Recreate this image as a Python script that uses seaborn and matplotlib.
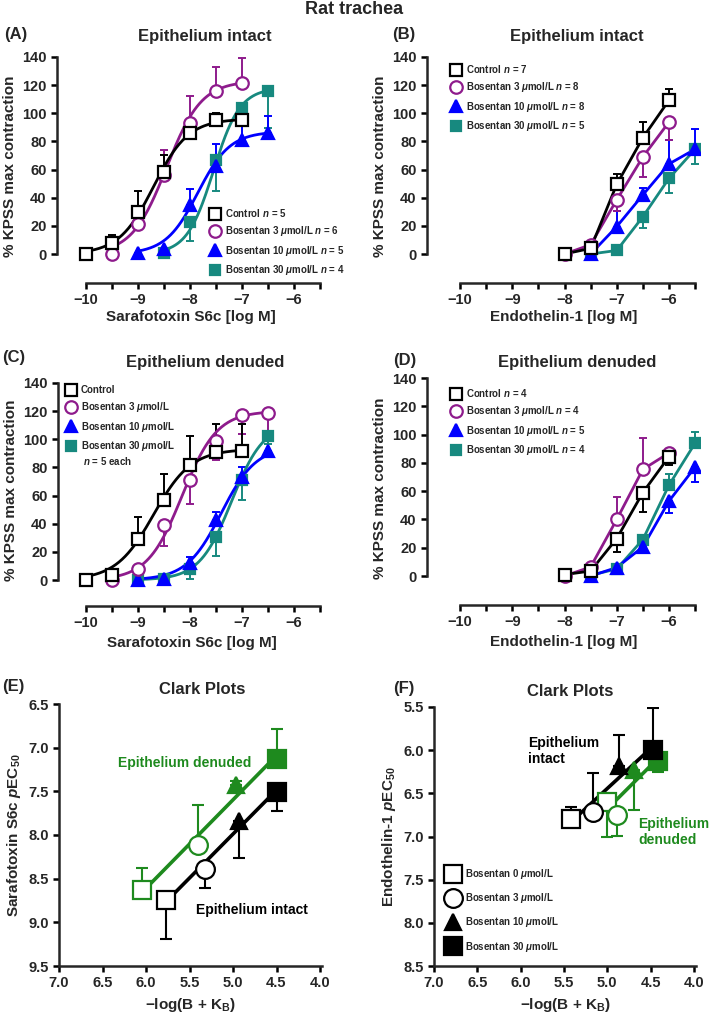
import numpy as np
import matplotlib
matplotlib.use("Agg")
import matplotlib.pyplot as plt
from matplotlib.lines import Line2D
from matplotlib.ticker import FormatStrFormatter
import seaborn as sns

sns.set_style("ticks")
plt.rcParams['font.family'] = ['Liberation Sans', 'DejaVu Sans']
plt.rcParams['font.weight'] = 'bold'
plt.rcParams['axes.labelweight'] = 'bold'
plt.rcParams['mathtext.fontset'] = 'custom'
plt.rcParams['mathtext.rm'] = 'Liberation Sans:bold'
plt.rcParams['mathtext.it'] = 'Liberation Sans:italic:bold'
plt.rcParams['mathtext.bf'] = 'Liberation Sans:bold'

# ---- (A) sarafotoxin S6c, epithelium intact ----
a_ctrl_x = [-10, -9.5, -9, -8.5, -8, -7.5, -7]
a_ctrl_y = [0, 7.5, 30, 58.5, 86, 95, 95]
a_ctrl_e = [0, 6, 15, 12, 5, 5.5, 5.5]
a_b3_x = [-9.5, -9, -8.5, -8, -7.5, -7]
a_b3_y = [0, 21, 56, 93, 116, 121.5]
a_b3_e = [0, 0, 18, 19, 17, 18]
a_b10_x = [-9, -8.5, -8, -7.5, -7, -6.5]
a_b10_y = [0.5, 3.5, 35, 62.5, 81, 86]
a_b10_e = [0, 0, 11, 15.5, 14, 12]
a_b30_x = [-8.5, -8, -7.5, -7, -6.5]
a_b30_y = [1, 23, 67, 103.5, 115.5]
a_b30_e = [0, 14, 22.5, 6, 26]
# fitted curves: top, logEC50, Hill slope (ctrl, b3, b10, b30)
a_top = [96, 123, 87, 118]
a_logec = [-8.7, -8.45, -7.85, -7.55]
a_hill = [1.3, 1.3, 1.4, 1.7]

# ---- (B) endothelin-1, epithelium intact ----
b_ctrl_x = [-8, -7.5, -7, -6.5, -6]
b_ctrl_y = [0, 4, 49.5, 82.6, 109.3]
b_ctrl_e = [0, 0, 7.5, 11.4, 8.3]
b_b3_x = [-8, -7.5, -7, -6.5, -6]
b_b3_y = [0, 6.6, 38.5, 69, 93.8]
b_b3_e = [0, 0, 8, 14, 13]
b_b10_x = [-7.5, -7, -6.5, -6, -5.5]
b_b10_y = [0, 19.5, 42, 64, 74.5]
b_b10_e = [0, 11, 5, 17, 14.5]
b_b30_x = [-7.5, -7, -6.5, -6, -5.5]
b_b30_y = [0, 2.5, 26.5, 53.8, 74.5]
b_b30_e = [0, 0, 8, 10.5, 10.5]

# ---- (C) sarafotoxin S6c, epithelium denuded ----
c_ctrl_x = [-10, -9.5, -9, -8.5, -8, -7.5, -7]
c_ctrl_y = [0, 3.5, 29, 57, 82, 91, 92]
c_ctrl_e = [0, 0, 16, 18.5, 20.5, 20, 19]
c_b3_x = [-9.5, -9, -8.5, -8, -7.5, -7, -6.5]
c_b3_y = [0, 8, 39, 71, 99, 117, 119]
c_b3_e = [0, 0, 15, 17, 14, 13, 14]
c_b10_x = [-9, -8.5, -8, -7.5, -7, -6.5]
c_b10_y = [0, 0.5, 12, 42.6, 73.4, 92]
c_b10_e = [0, 0, 4.5, 6, 7, 0]
c_b30_x = [-9, -8.5, -8, -7.5, -7, -6.5]
c_b30_y = [0, 0.5, 7.5, 30.8, 71, 102]
c_b30_e = [0, 0, 6.5, 14, 14, 5]
c_top = [93, 120, 95, 112]
c_logec = [-8.7, -8.15, -7.4, -7.2]
c_hill = [1.2, 1.3, 1.3, 1.4]

# ---- (D) endothelin-1, epithelium denuded ----
d_ctrl_x = [-8, -7.5, -7, -6.5, -6]
d_ctrl_y = [1, 3.5, 26.5, 59, 84.4]
d_ctrl_e = [0, 0, 9.5, 13.5, 6]
d_b3_x = [-8, -7.5, -7, -6.5, -6]
d_b3_y = [0, 6.4, 40, 75.4, 87]
d_b3_e = [0, 0, 16, 22, 0]
d_b10_x = [-7.5, -7, -6.5, -6, -5.5]
d_b10_y = [0, 6, 20.6, 53, 77]
d_b10_e = [0, 0, 4.5, 8.5, 10.5]
d_b30_x = [-7.5, -7, -6.5, -6, -5.5]
d_b30_y = [0.5, 5, 25.8, 64.3, 94]
d_b30_e = [0, 0, 0, 8, 8]

# ---- (E) Clark plot, sarafotoxin S6c ----
e_int_x = [5.77, 5.32, 4.93, 4.50]
e_int_y = [8.74, 8.39, 7.84, 7.51]
e_int_e = [0.45, 0.22, 0.42, 0.22]
e_den_x = [6.05, 5.40, 4.96, 4.50]
e_den_y = [8.63, 8.12, 7.43, 7.13]
e_den_e = [0.25, 0.46, 0.05, 0.34]

# ---- (F) Clark plot, endothelin-1 ----
f_int_x = [5.42, 5.17, 4.86, 4.47]
f_int_y = [6.80, 6.72, 6.18, 6.00]
f_int_e = [0.14, 0.45, 0.35, 0.49]
f_den_x = [5.00, 4.89, 4.69, 4.41]
f_den_y = [6.60, 6.75, 6.23, 6.13]
f_den_e = [0.40, 0.24, 0.46, 0.12]

series_names = ['ctrl', 'b3', 'b10', 'b30']
conc_labels = ['0', '3', '10', '30']

PURPLE = '#8E1B8C'
BLUE = '#0000FF'
TEAL = '#17897F'
GREEN = '#1E8A1E'
STY = {
    'ctrl': dict(color='black', marker='s', mfc='white', ms=8.5),
    'b3': dict(color=PURPLE, marker='o', mfc='white', ms=9),
    'b10': dict(color=BLUE, marker='^', mfc=BLUE, ms=8),
    'b30': dict(color=TEAL, marker='s', mfc=TEAL, ms=7.5),
}

W, H = 709, 1017
fig = plt.figure(figsize=(W / 100, H / 100), dpi=100)


def make_ax(box, xmap, ymap):
    l, r, t, b = box
    ax = fig.add_axes([l / W, 1 - b / H, (r - l) / W, (b - t) / H])
    (p1, v1), (p2, v2) = xmap
    fx = lambda p: v1 + (p - p1) * (v2 - v1) / (p2 - p1)
    ax.set_xlim(fx(l), fx(r))
    (q1, w1), (q2, w2) = ymap
    fy = lambda q: w1 + (q - q1) * (w2 - w1) / (q2 - q1)
    ax.set_ylim(fy(b), fy(t))
    sns.despine(ax=ax)
    for s in ['left', 'bottom']:
        ax.spines[s].set_linewidth(1.8)
    ax.tick_params(which='both', length=4, width=1.8, labelsize=10.5, color='black')
    return ax


def hill(x, top, logec, nh):
    return top / (1 + 10 ** ((logec - x) * nh))


def errbars(ax, x, y, e, c, up, lw=1.4, cap=3, z=2):
    # up=True: bar toward larger data values
    e = np.asarray(e, float)
    z0 = np.zeros_like(e)
    yerr = [z0, e] if up else [e, z0]
    ax.errorbar(x, y, yerr=yerr, fmt='none', ecolor=c, elinewidth=lw,
                capsize=cap, capthick=lw, zorder=z)


def bold_ticks(ax):
    for lab in ax.get_xticklabels() + ax.get_yticklabels():
        lab.set_fontweight('bold')


def crc_axes(box, xmap, ymap, xlabel, pad=4):
    ax = make_ax(box, xmap, ymap)
    ax.set_xticks(np.arange(-10, -5.9, 1))
    ax.set_xticks(np.arange(-9.5, -5.4, 1), minor=True)
    ax.set_yticks(np.arange(0, 141, 20))
    ax.spines['left'].set_bounds(0, 140)
    ax.spines['bottom'].set_bounds(-10, -5.5)
    ax.set_xlabel(xlabel, fontsize=11, fontweight='bold', labelpad=pad)
    ax.set_ylabel('% KPSS max contraction', fontsize=11, fontweight='bold')
    bold_ticks(ax)
    return ax


def crc_panel(ax, data, updown, fit=None):
    # teal first, control last (on top)
    for i, key in enumerate(reversed(series_names)):
        x, y, e = data[key]
        st = STY[key]
        c = st['color']
        errbars(ax, x, y, e, c, updown[key], z=2 + i * 0.1)
        if fit is not None:
            j = series_names.index(key)
            xs = np.linspace(x[0], x[-1], 200)
            sns.lineplot(x=xs, y=hill(xs, fit[0][j], fit[1][j], fit[2][j]),
                         ax=ax, color=c, lw=2, zorder=3 + i * 0.1)
        else:
            sns.lineplot(x=x, y=y, ax=ax, color=c, lw=2, zorder=3 + i * 0.1)
        ax.plot(x, y, ls='none', marker=st['marker'], ms=st['ms'], mfc=st['mfc'],
                mec=c, mew=1.6, zorder=5 + i * 0.1)


def crc_legend(ax, labels, anchor, fs=7):
    handles = [Line2D([], [], ls='none', marker=STY[k]['marker'], ms=STY[k]['ms'],
                      mfc=STY[k]['mfc'], mec=STY[k]['color'], mew=1.6)
               for k in series_names]
    ax.legend(handles, labels, loc='upper left', bbox_to_anchor=(anchor[0] / W, 1 - anchor[1] / H),
              bbox_transform=fig.transFigure, frameon=False, fontsize=fs, borderpad=0,
              handlelength=1.0, handletextpad=0.55, labelspacing=0.55, borderaxespad=0)


UM = r'$\mu$mol/L'

# (A)
axA = crc_axes((57, 325, 50, 283), ((86, -10), (294, -6)), ((254, 0), (57, 140)),
               'Sarafotoxin S6c [log M]', pad=1.5)
crc_panel(axA, {'ctrl': (a_ctrl_x, a_ctrl_y, a_ctrl_e), 'b3': (a_b3_x, a_b3_y, a_b3_e),
                'b10': (a_b10_x, a_b10_y, a_b10_e), 'b30': (a_b30_x, a_b30_y, a_b30_e)},
          {'ctrl': True, 'b3': True, 'b10': True, 'b30': False}, fit=(a_top, a_logec, a_hill))
crc_legend(axA, ['Control $n$ = 5', 'Bosentan 3 ' + UM + ' $n$ = 6',
                 'Bosentan 10 ' + UM + ' $n$ = 5', 'Bosentan 30 ' + UM + ' $n$ = 4'], (210, 207))

# (B)
axB = crc_axes((427, 700, 50, 283), ((460, -10), (669, -6)), ((254, 0), (57, 140)),
               'Endothelin-1 [log M]', pad=1.5)
crc_panel(axB, {'ctrl': (b_ctrl_x, b_ctrl_y, b_ctrl_e), 'b3': (b_b3_x, b_b3_y, b_b3_e),
                'b10': (b_b10_x, b_b10_y, b_b10_e), 'b30': (b_b30_x, b_b30_y, b_b30_e)},
          {'ctrl': True, 'b3': False, 'b10': True, 'b30': False})
crc_legend(axB, ['Control $n$ = 7', 'Bosentan 3 ' + UM + ' $n$ = 8',
                 'Bosentan 10 ' + UM + ' $n$ = 8', 'Bosentan 30 ' + UM + ' $n$ = 5'], (451, 63))

# (C)
axC = crc_axes((58, 325, 374, 606), ((86, -10), (294, -6)), ((580, 0), (383, 140)),
               'Sarafotoxin S6c [log M]')
crc_panel(axC, {'ctrl': (c_ctrl_x, c_ctrl_y, c_ctrl_e), 'b3': (c_b3_x, c_b3_y, c_b3_e),
                'b10': (c_b10_x, c_b10_y, c_b10_e), 'b30': (c_b30_x, c_b30_y, c_b30_e)},
          {'ctrl': True, 'b3': False, 'b10': True, 'b30': False}, fit=(c_top, c_logec, c_hill))
crc_legend(axC, ['Control', 'Bosentan 3 ' + UM, 'Bosentan 10 ' + UM, 'Bosentan 30 ' + UM], (66, 385))
fig.text(83 / W, 1 - 461 / H, '$n$ = 5 each', fontsize=7, va='center', ha='left')

# (D)
axD = crc_axes((427, 700, 372, 605), ((460, -10), (669, -6)), ((576, 0), (378, 140)),
               'Endothelin-1 [log M]')
crc_panel(axD, {'ctrl': (d_ctrl_x, d_ctrl_y, d_ctrl_e), 'b3': (d_b3_x, d_b3_y, d_b3_e),
                'b10': (d_b10_x, d_b10_y, d_b10_e), 'b30': (d_b30_x, d_b30_y, d_b30_e)},
          {'ctrl': False, 'b3': True, 'b10': False, 'b30': True})
crc_legend(axD, ['Control $n$ = 4', 'Bosentan 3 ' + UM + ' $n$ = 4',
                 'Bosentan 10 ' + UM + ' $n$ = 5', 'Bosentan 30 ' + UM + ' $n$ = 4'], (451, 387))

# Clark plots
CLARK_MK = [('s', 'open', 13), ('o', 'open', 13.5), ('^', 'fill', 11.5), ('s', 'fill', 13)]


def clark_axes(box, xmap, ymap, ylabel, yticks):
    ax = make_ax(box, xmap, ymap)
    ax.set_xticks(np.arange(4.0, 7.01, 0.5))
    ax.set_yticks(yticks)
    ax.xaxis.set_major_formatter(FormatStrFormatter('%.1f'))
    ax.yaxis.set_major_formatter(FormatStrFormatter('%.1f'))
    ax.set_xlabel(r'$\mathbf{-}$log(B + K$_\mathbf{B}$)', fontsize=11, fontweight='bold')
    ax.set_ylabel(ylabel, fontsize=11, fontweight='bold')
    bold_ticks(ax)
    return ax


def clark_series(ax, x, y, e, c, up):
    x = np.asarray(x)
    y = np.asarray(y)
    errbars(ax, x, y, e, c, up, lw=1.5, cap=4, z=2)
    k, b0 = np.polyfit(x, y, 1)
    xs = np.array([x.min(), x.max()])
    sns.lineplot(x=xs, y=k * xs + b0, ax=ax, color=c, lw=2.6, zorder=3)
    for xi, yi, (m, kind, ms) in zip(x, y, CLARK_MK):
        ax.plot([xi], [yi], ls='none', marker=m, ms=ms, mec=c, mew=1.6,
                mfc='white' if kind == 'open' else c, zorder=5, clip_on=False)


# y axes are inverted: up=True draws the bar downward on screen
axE = clark_axes((59, 322, 704, 966), ((59, 7.0), (320, 4.0)), ((704, 6.5), (966, 9.5)),
                 r'Sarafotoxin S6c $p\mathbf{EC_{50}}$', np.arange(6.5, 9.51, 0.5))
clark_series(axE, e_den_x, e_den_y, e_den_e, GREEN, False)
clark_series(axE, e_int_x, e_int_y, e_int_e, 'black', True)
fig.text(185 / W, 1 - 763 / H, 'Epithelium denuded', color=GREEN, fontsize=10,
         ha='center', va='center', fontweight='bold')
fig.text(252 / W, 1 - 910 / H, 'Epithelium intact', color='black', fontsize=10,
         ha='center', va='center', fontweight='bold')

axF = clark_axes((434, 696, 707, 966), ((434, 7.0), (694, 4.0)), ((707, 5.5), (966, 8.5)),
                 r'Endothelin-1 $p\mathbf{EC_{50}}$', np.arange(5.5, 8.51, 0.5))
clark_series(axF, f_den_x, f_den_y, f_den_e, GREEN, True)
clark_series(axF, f_int_x, f_int_y, f_int_e, 'black', False)
fig.text(528 / W, 1 - 751 / H, 'Epithelium\nintact', color='black', fontsize=10,
         ha='left', va='center', fontweight='bold', linespacing=1.1)
fig.text(638 / W, 1 - 832 / H, 'Epithelium\ndenuded', color=GREEN, fontsize=10,
         ha='left', va='center', fontweight='bold', linespacing=1.1)
f_handles = [Line2D([], [], ls='none', marker=m, ms=ms, mec='black', mew=1.6,
                    mfc='white' if kind == 'open' else 'black') for m, kind, ms in CLARK_MK]
axF.legend(f_handles, ['Bosentan %s ' % cl + UM for cl in conc_labels], loc='upper left',
           bbox_to_anchor=(446 / W, 1 - 867 / H), bbox_transform=fig.transFigure,
           frameon=False, fontsize=7, borderpad=0, handlelength=1.4, handletextpad=0.6,
           labelspacing=1.05, borderaxespad=0)

# titles and panel letters
fig.text(354 / W, 1 - 10 / H, 'Rat trachea', fontsize=13, ha='center', va='center', fontweight='bold')
for x, y, t in [(205, 37, 'Epithelium intact'), (577, 37, 'Epithelium intact'),
                (205, 362, 'Epithelium denuded'), (577, 363, 'Epithelium denuded'),
                (202, 690, 'Clark Plots'), (570, 692, 'Clark Plots')]:
    fig.text(x / W, 1 - y / H, t, fontsize=12, ha='center', va='center', fontweight='bold')
for x, y, t in [(4, 34, '(A)'), (392, 34, '(B)'), (2, 358, '(C)'), (393, 360, '(D)'),
                (2, 686, '(E)'), (393, 688, '(F)')]:
    fig.text(x / W, 1 - y / H, t, fontsize=12, ha='left', va='center', fontweight='bold')

fig.savefig('out.png', dpi=100)
